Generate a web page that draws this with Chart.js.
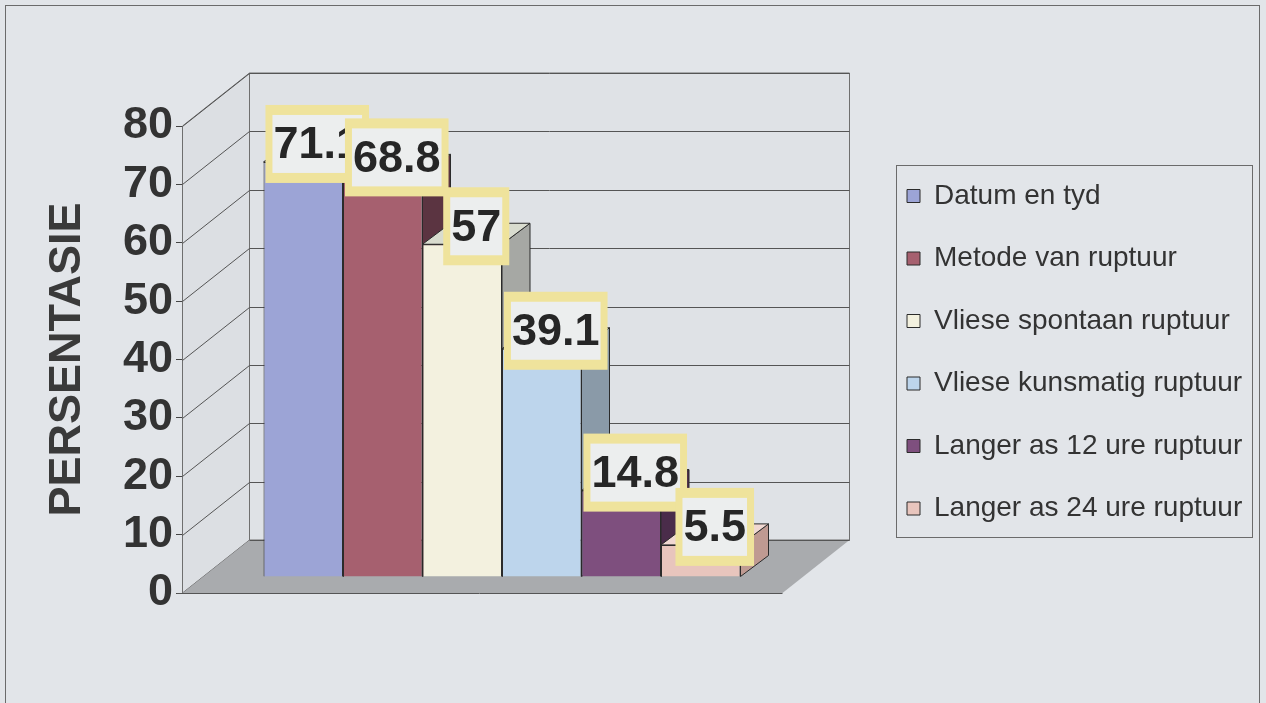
<!DOCTYPE html>
<html>
<head>
<meta charset="utf-8">
<title>Persentasie</title>
<script src="https://cdn.jsdelivr.net/npm/chart.js@4.4.1/dist/chart.umd.min.js"></script>
<style>
  html, body { margin: 0; padding: 0; background: #e2e5e8; }
  #wrap { width: 1266px; height: 703px; }
</style>
</head>
<body>
<div id="wrap"><canvas id="grafiek" width="1266" height="703"></canvas></div>
<script>
const categories = [''];
const seriesNames = [
  'Datum en tyd',
  'Metode van ruptuur',
  'Vliese spontaan ruptuur',
  'Vliese kunsmatig ruptuur',
  'Langer as 12 ure ruptuur',
  'Langer as 24 ure ruptuur'
];
const seriesValues = [71.1, 68.8, 57, 39.1, 14.8, 5.5];
const yTicks = [0, 10, 20, 30, 40, 50, 60, 70, 80];

const frontColors = ['#9ca4d6', '#a6606f', '#f3f1df', '#bdd5ec', '#7e4f7e', '#e8c5bd'];
const sideColors  = ['#5c6390', '#5b3441', '#a6a8a4', '#8a9aa8', '#4a2c4a', '#bf9a92'];
const topColors   = ['#c0c6ea', '#c98f9b', '#d9dccf', '#dde9f5', '#a07aa0', '#f0d8d2'];

const FONT = '"Liberation Sans", Arial, sans-serif';

// fake 3d: offset of back wall, of the bar plane, and bar depth
const WALL = { dx: 67, dy: -53 };
const PLANE = { dx: 20, dy: -16 };
const DEPTH = { dx: 28, dy: -21 };

function poly(ctx, pts, fill, stroke) {
  ctx.beginPath();
  pts.forEach((p, i) => i ? ctx.lineTo(p[0], p[1]) : ctx.moveTo(p[0], p[1]));
  ctx.closePath();
  if (fill) { ctx.fillStyle = fill; ctx.fill(); }
  if (stroke) { ctx.strokeStyle = stroke; ctx.lineWidth = 1; ctx.stroke(); }
}

const pseudo3d = {
  id: 'pseudo3d',
  beforeDraw(chart) {
    const ctx = chart.ctx;
    ctx.save();
    ctx.fillStyle = '#e2e5e9';
    ctx.fillRect(0, 0, chart.width, chart.height);
    ctx.strokeStyle = '#6b6b6b';
    ctx.lineWidth = 1;
    ctx.strokeRect(5.5, 5.5, 1254, 720);
    ctx.restore();
  },
  afterLayout(chart) {
    // park the legend next to the plot, wide enough for the longest label
    const lg = chart.legend;
    const h = lg.height;
    lg.left = 872.5; lg.right = 1262; lg.width = lg.right - lg.left;
    lg.top = 147.5; lg.bottom = lg.top + h;
  },
  beforeDatasetsDraw(chart) {
    const { ctx, chartArea: a, scales: { y } } = chart;
    const L = a.left + 0.5, R = a.right + 0.5, T = a.top, B = a.bottom;
    ctx.save();
    // side wall
    poly(ctx, [[L, B], [L, T], [L + WALL.dx, T + WALL.dy], [L + WALL.dx, B + WALL.dy]], '#dcdfe3', '#6f6f6f');
    // back wall
    poly(ctx, [[L + WALL.dx, T + WALL.dy], [R + WALL.dx, T + WALL.dy], [R + WALL.dx, B + WALL.dy], [L + WALL.dx, B + WALL.dy]], '#dfe2e6', '#6f6f6f');
    // gridlines
    ctx.strokeStyle = '#555';
    ctx.lineWidth = 1;
    yTicks.forEach(v => {
      const py = Math.round(y.getPixelForValue(v)) + 0.5;
      ctx.beginPath();
      ctx.moveTo(L, py);
      ctx.lineTo(L + WALL.dx, py + WALL.dy);
      ctx.lineTo(R + WALL.dx, py + WALL.dy);
      ctx.stroke();
    });
    // floor
    poly(ctx, [[L, B], [R, B], [R + WALL.dx, B + WALL.dy], [L + WALL.dx, B + WALL.dy]], '#a9abae', null);
    ctx.strokeStyle = '#555';
    ctx.beginPath();
    ctx.moveTo(L - 6, B + 0.5); ctx.lineTo(R, B + 0.5);
    ctx.moveTo(L + WALL.dx, B + WALL.dy + 0.5); ctx.lineTo(R + WALL.dx, B + WALL.dy + 0.5);
    ctx.stroke();

    // bar sides and tops sit behind the fronts
    ctx.translate(PLANE.dx, PLANE.dy);
    const bars = chart.data.datasets.map((ds, i) => chart.getDatasetMeta(i).data[0]);
    bars.forEach((b, i) => {
      const r = b.x + b.width / 2;
      poly(ctx, [[r, b.y], [r + DEPTH.dx, b.y + DEPTH.dy], [r + DEPTH.dx, b.base + DEPTH.dy], [r, b.base]], sideColors[i], '#2b2b2b');
    });
    bars.forEach((b, i) => {
      const l = b.x - b.width / 2, r = b.x + b.width / 2;
      poly(ctx, [[l, b.y], [r, b.y], [r + DEPTH.dx, b.y + DEPTH.dy], [l + DEPTH.dx, b.y + DEPTH.dy]], topColors[i], '#2b2b2b');
    });
    ctx.restore();

    ctx.save();
    ctx.translate(PLANE.dx, PLANE.dy);
  },
  afterDatasetsDraw(chart) {
    const ctx = chart.ctx;
    ctx.restore();
    // value boxes
    ctx.save();
    ctx.font = 'bold 45px ' + FONT;
    ctx.textAlign = 'center';
    ctx.textBaseline = 'middle';
    chart.data.datasets.forEach((ds, i) => {
      const b = chart.getDatasetMeta(i).data[0];
      const text = String(ds.data[0]);
      const w = ctx.measureText(text).width + 16, h = 78;
      const cx = b.x + PLANE.dx + DEPTH.dx / 2;
      const cy = b.y + PLANE.dy - 18;
      ctx.fillStyle = '#efe39c';
      ctx.fillRect(cx - w / 2, cy - h / 2, w, h);
      ctx.fillStyle = '#eceeee';
      ctx.fillRect(cx - w / 2 + 7, cy - h / 2 + 10, w - 14, h - 20);
      ctx.fillStyle = '#262626';
      ctx.fillText(text, cx, cy + 2);
    });
    ctx.restore();
  },
  afterDraw(chart) {
    const ctx = chart.ctx;
    ctx.save();
    ctx.strokeStyle = '#6b6b6b';
    ctx.lineWidth = 1;
    ctx.strokeRect(896.5, 165.5, 356, 372);
    ctx.restore();
  }
};

new Chart(document.getElementById('grafiek'), {
  type: 'bar',
  data: {
    labels: categories,
    datasets: seriesNames.map((name, i) => ({
      label: name,
      data: [seriesValues[i]],
      backgroundColor: frontColors[i],
      borderColor: '#2b2b2b',
      borderWidth: 1,
      clip: false
    }))
  },
  options: {
    responsive: false,
    animation: false,
    devicePixelRatio: 1,
    layout: { padding: { left: 10, top: 126, right: 284, bottom: 110 } },
    datasets: { bar: { categoryPercentage: 0.795, barPercentage: 1 } },
    scales: {
      x: { display: false },
      y: {
        min: yTicks[0],
        max: yTicks[yTicks.length - 1],
        afterBuildTicks(scale) { scale.ticks = yTicks.map(v => ({ value: v })); },
        afterFit(scale) { scale.width = 172; },
        grid: { drawOnChartArea: false, drawTicks: true, tickLength: 6, color: '#444' },
        border: { display: true, color: '#444' },
        ticks: { color: '#333', padding: 3, font: { family: FONT, size: 45, weight: 'bold' } },
        title: {
          display: true,
          text: 'PERSENTASIE',
          color: '#3a3a3a',
          padding: { top: 31, bottom: 0 },
          font: { family: FONT, size: 45, weight: 'bold' }
        }
      }
    },
    plugins: {
      tooltip: { enabled: false },
      legend: {
        position: 'right',
        align: 'start',
        maxWidth: 200,
        labels: {
          boxWidth: 13,
          boxHeight: 13,
          padding: 34.5,
          color: '#333',
          font: { family: FONT, size: 28 }
        }
      }
    }
  },
  plugins: [pseudo3d]
});
</script>
</body>
</html>
